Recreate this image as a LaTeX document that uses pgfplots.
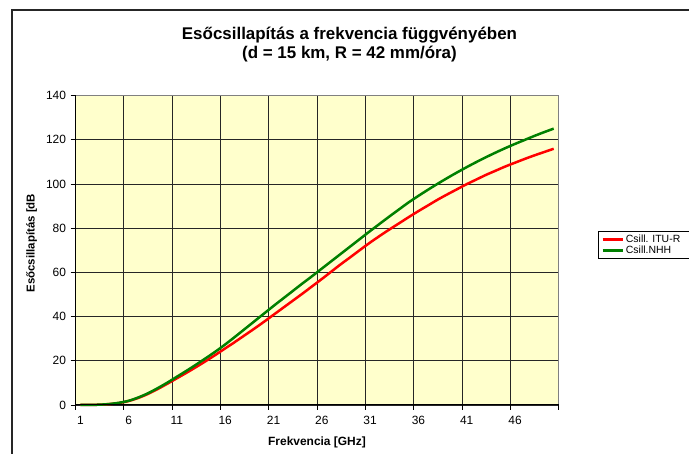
\documentclass[border=0pt]{standalone}
\usepackage{pgfplots}
\pgfplotsset{compat=1.18}
\usepackage{pgfplotstable}
\usepackage{fontspec}
\setmainfont{Liberation Sans}
\definecolor{plotbg}{HTML}{FFFFCC}
\definecolor{itured}{HTML}{FF0000}
\definecolor{nhhgreen}{HTML}{008000}

\pgfplotstableread{
f itu nhh
1 0.0 0.0
2 0.05 0.05
3 0.15 0.15
4 0.4 0.45
5 0.9 1.0
6 1.8 1.9
7 3.2 3.4
8 5.0 5.3
9 7.2 7.6
10 9.6 10.1
11 12.1 12.8
12 14.6 15.5
13 17.2 18.3
14 19.9 21.2
15 22.7 24.2
16 25.6 27.4
17 28.5 30.8
18 31.5 34.3
19 34.5 37.8
20 37.6 41.3
21 40.8 44.8
22 44.0 48.2
23 47.2 51.6
24 50.4 55.0
25 53.7 58.3
26 57.0 61.7
27 60.4 65.1
28 63.8 68.5
29 67.0 71.9
30 70.3 75.3
31 73.5 78.7
32 76.5 82.0
33 79.4 85.3
34 82.2 88.5
35 85.0 91.7
36 87.7 94.6
37 90.3 97.4
38 92.9 100.1
39 95.3 102.7
40 97.6 105.2
41 99.9 107.6
42 102.0 109.9
43 104.1 112.1
44 106.0 114.2
45 107.9 116.2
46 109.6 118.1
47 111.3 119.9
48 112.9 121.7
49 114.4 123.4
50 115.9 125.0
}\datatable

\begin{document}
\begin{tikzpicture}[x=1bp,y=1bp]
\useasboundingbox (0,0) rectangle (689,454);
\clip (0,0) rectangle (689,454);
\coordinate (AX) at (75.5,49);
\draw[black!85, line width=2bp] (12,-5) -- (12,444) -- (700,444);
\node[font=\bfseries\fontsize{17}{20}\selectfont, anchor=base, inner sep=0] at (349.5,414) {Esőcsillapítás a frekvencia függvényében};
\node[font=\bfseries\fontsize{17}{20}\selectfont, anchor=base, inner sep=0] at (349.5,395.5) {(d = 15 km, R = 42 mm/óra)};
\begin{axis}[
  at={(AX)}, anchor=south west,
  width=483bp, height=309.5bp, scale only axis,
  xmin=0.5, xmax=50.5, ymin=0, ymax=140,
  clip=false,
  axis background/.style={fill=plotbg},
  axis line style={draw=black!50, line width=1bp},
  xtick={1,6,...,46},
  minor xtick={0.5,5.5,...,50.5},
  ytick={0,20,...,140},
  xtick pos=lower, ytick pos=left, tick align=outside,
  major tick length=5bp, minor tick length=5bp,
  tick style={black, line width=0.8bp},
  major x tick style={draw=none},
  xminorgrids, ymajorgrids,
  minor grid style={black!85, line width=0.75bp},
  major grid style={black!85, line width=0.75bp},
  /pgf/number format/assume math mode=true,
  ticklabel style={font=\fontsize{12}{14}\selectfont},
  xticklabel style={yshift=-3bp},
  yticklabel style={xshift=-1bp},
  xlabel={Frekvencia [GHz]},
  ylabel={Esőcsillapítás [dB},
  xlabel style={font=\bfseries\fontsize{12}{14}\selectfont, at={(axis description cs:0.5,-0.1195)}, anchor=center},
  ylabel style={font=\bfseries\fontsize{11.5}{13}\selectfont, at={(axis description cs:-0.0907,0.523)}, anchor=center},
  legend style={at={(1.0818,0.5622)}, anchor=north west, draw=black, line width=0.8bp, fill=white,
    font=\fontsize{10.5}{12}\selectfont, inner xsep=3bp, inner ysep=1.5bp, row sep=-2bp},
  legend cell align=left,
  legend image code/.code={\draw[#1] (0bp,0bp) -- (20bp,0bp);},
]
\addplot[itured, line width=2.5bp, smooth] table[x=f, y=itu] {\datatable};
\addlegendentry{\makebox[70bp][l]{Csill. ITU-R}}
\addplot[nhhgreen, line width=2.5bp, smooth] table[x=f, y=nhh] {\datatable};
\addlegendentry{\makebox[70bp][l]{Csill.NHH}}
\draw[black, line width=1bp] (rel axis cs:0,1) -- (rel axis cs:0,0) -- (rel axis cs:1,0);
\end{axis}
\end{tikzpicture}
\end{document}
